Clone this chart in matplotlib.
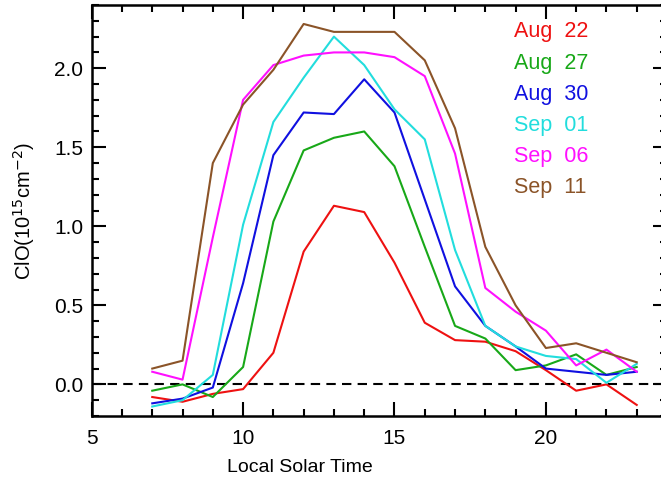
import numpy as np
import matplotlib
matplotlib.use('Agg')
import matplotlib.pyplot as plt
from matplotlib.ticker import MultipleLocator

plt.rcParams['font.family'] = ['Liberation Sans', 'DejaVu Sans']

# Local solar time (hours)
hours = np.arange(7, 24)

# ClO columns (10^15 cm^-2)
aug22 = [-0.08, -0.11, -0.06, -0.03, 0.20, 0.84, 1.13, 1.09, 0.77, 0.39, 0.28, 0.27, 0.21, 0.09, -0.04, 0.00, -0.13]
aug27 = [-0.04, 0.00, -0.08, 0.11, 1.03, 1.48, 1.56, 1.60, 1.38, 0.87, 0.37, 0.29, 0.09, 0.12, 0.19, 0.06, 0.11]
aug30 = [-0.12, -0.09, -0.02, 0.64, 1.45, 1.72, 1.71, 1.93, 1.72, 1.17, 0.62, 0.37, 0.24, 0.10, 0.08, 0.06, 0.08]
sep01 = [-0.14, -0.10, 0.06, 1.01, 1.66, 1.94, 2.20, 2.02, 1.74, 1.55, 0.85, 0.37, 0.24, 0.18, 0.16, 0.01, 0.13]
sep06 = [0.08, 0.03, 0.93, 1.80, 2.02, 2.08, 2.10, 2.10, 2.07, 1.95, 1.46, 0.61, 0.46, 0.34, 0.12, 0.22, 0.08]
sep11 = [0.10, 0.15, 1.40, 1.77, 1.99, 2.28, 2.23, 2.23, 2.23, 2.05, 1.62, 0.87, 0.50, 0.23, 0.26, 0.20, 0.14]

labels = ['Aug  22', 'Aug  27', 'Aug  30', 'Sep  01', 'Sep  06', 'Sep  11']
colors = ['#ee1111', '#18a818', '#1010e0', '#22dddd', '#ff10ff', '#8b5428']
series = [aug22, aug27, aug30, sep01, sep06, sep11]

fig = plt.figure(figsize=(6.61, 4.8), dpi=100)
# right spine sits just past the image edge, like the cropped original
ax = fig.add_axes([91.7 / 661, 64 / 480, (667 - 91.7) / 661, (416 - 5) / 480])

ax.axhline(0, color='black', linestyle=(0, (4.5, 3)), linewidth=1.5, zorder=1)

for vals, c in zip(series, colors):
    ax.plot(hours, vals, color=c, linewidth=1.5, zorder=2)

# text legend in upper right
for i, (lab, c) in enumerate(zip(labels, colors)):
    ax.text(18.95, 2.23 - i * 0.197, lab, color=c, fontsize=15.5, va='center', ha='left')

ax.set_xlim(5, 24)
ax.set_ylim(-0.2, 2.4)
ax.xaxis.set_major_locator(MultipleLocator(5))
ax.xaxis.set_minor_locator(MultipleLocator(1))
ax.yaxis.set_major_locator(MultipleLocator(0.5))
ax.yaxis.set_minor_locator(MultipleLocator(0.1))
ax.set_xticks([5, 10, 15, 20])
ax.tick_params(which='both', direction='in', top=True, right=True, width=1.5, labelsize=15)
ax.tick_params(which='major', length=10)
ax.tick_params(which='minor', length=5)
ax.tick_params(axis='x', pad=9)
ax.tick_params(axis='y', pad=6)
ax.yaxis.set_major_formatter(matplotlib.ticker.FormatStrFormatter('%.1f'))
for sp in ax.spines.values():
    sp.set_linewidth(1.8)

ax.set_xlabel('Local Solar Time', fontsize=14)
ax.xaxis.set_label_coords((300 - 91.7) / (667 - 91.7), -0.105)
ax.set_ylabel('ClO(10$^{15}$cm$^{-2}$)', fontsize=14.5)
ax.yaxis.set_label_coords(-(91.7 - 37) / (667 - 91.7), 0.5)

fig.savefig('out.png', dpi=100)
